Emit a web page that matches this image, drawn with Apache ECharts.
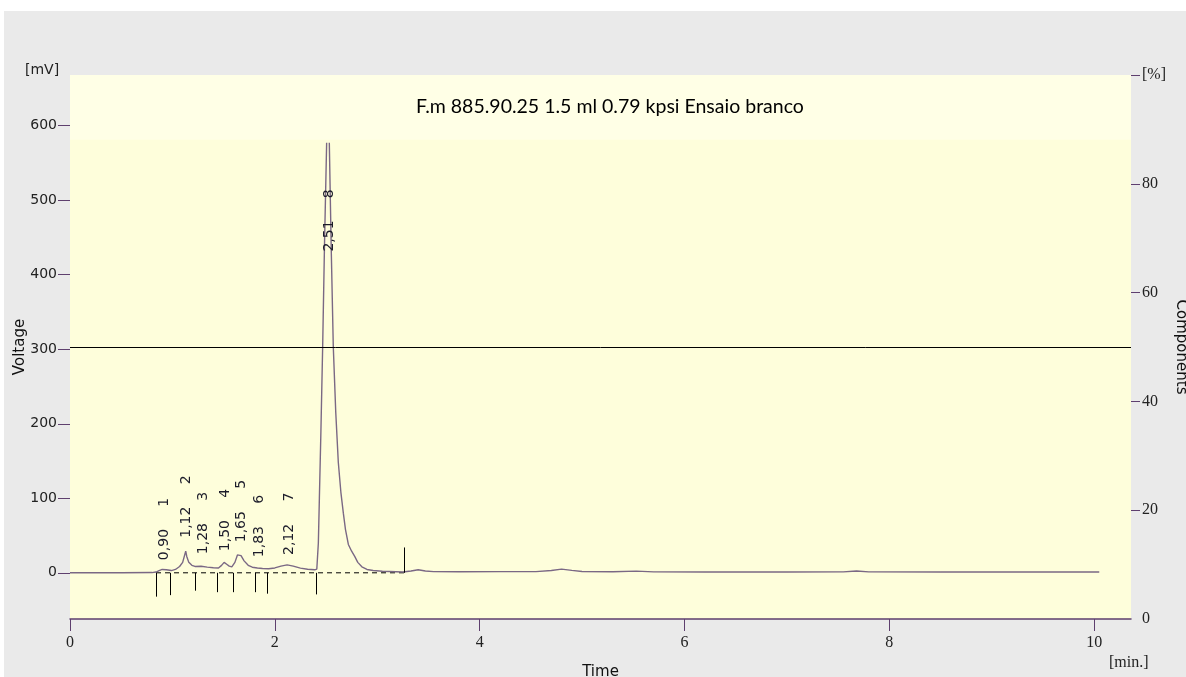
<!DOCTYPE html>
<html>
<head>
<meta charset="utf-8">
<script src="https://cdn.jsdelivr.net/npm/echarts@6/dist/echarts.min.js"></script>
<style>
    html, body {margin: 0; padding: 0; background: #fff;}
    #chart {position: absolute; left: 4px; top: 11px; width: 1182px; height: 666px;}
</style>
</head>
<body>
<div id="chart"></div>
<script>
// chromatogram trace: time [min] / voltage [mV]  (null = clipped apex)
const traceTime = [0, 0.5, 0.80, 0.84, 0.87, 0.90, 0.94, 0.99, 1.03, 1.07, 1.10, 1.12, 1.13, 1.14, 1.16, 1.19, 1.22,
    1.28, 1.34, 1.40, 1.45, 1.48, 1.505, 1.53, 1.555, 1.58, 1.61, 1.635, 1.65, 1.67, 1.70, 1.74, 1.78, 1.83, 1.88,
    1.94, 2.00, 2.06, 2.12, 2.18, 2.25, 2.32, 2.39, 2.41, 2.425, 2.435, 2.45, 2.467, 2.485, 2.506, 2.519, 2.532,
    2.55, 2.571, 2.595, 2.62, 2.645, 2.669, 2.69, 2.718, 2.75, 2.78, 2.81, 2.85, 2.90, 2.96, 3.05, 3.25, 3.33,
    3.40, 3.47, 3.55, 3.8, 4.2, 4.55, 4.70, 4.80, 4.90, 5.0, 5.3, 5.53, 5.7, 6.2, 7.0, 7.55, 7.68, 7.80, 8.5,
    9.2, 10.05];
const traceValue = [0, 0, 0.3, 1, 3, 4.5, 4, 3, 4.5, 8.5, 14, 24, 29, 22, 14, 10, 8.5,
    8.8, 7.6, 6.8, 6.5, 10, 14, 11.5, 9, 8, 14, 24, 26.5, 23, 16, 10, 7.5, 6.5, 5.8,
    5.4, 6.5, 9, 10.7, 9, 6.3, 4.8, 4, 5, 40, 100, 190, 303, 440, 577, null, 577,
    440, 303, 215, 148, 108, 80, 58, 38, 29, 22, 14, 8, 4.5, 3, 2, 1, 2.5,
    4, 2.5, 1.6, 1.5, 1.6, 1.6, 3, 5, 3.2, 1.8, 1.4, 2.3, 1.2, 1, 1, 1.3, 2.4, 1.3, 1,
    1, 1];

// integration marks
const markTime = [0.84, 0.98, 1.218, 1.438, 1.589, 1.81, 1.927, 2.40, 3.265];
const markLow = [-32, -30, -24, -26, -26, -26, -28, -29, 0];
const markHigh = [0, 0, 0, 0, 0, 0, 0, 0, 34];
const baselineTime = [0.84, 3.265];

// peak labels
const peakTime = [0.90, 1.12, 1.28, 1.50, 1.65, 1.83, 2.12, 2.51];
const peakNo = [1, 2, 3, 4, 5, 6, 7, 8];
const peakLabelBase = [17, 47, 25, 29, 41, 21, 24, 431];

const voltTicks = [0, 100, 200, 300, 400, 500, 600];
const pctTicks = [20, 40, 60, 80, 100];
const pctLabels = [0, 20, 40, 60, 80, 100];
const compLine = 50;

const title = 'F.m 885.90.25 1.5 ml 0.79 kpsi Ensaio branco';

let trace = traceTime.map((t, i) => [t, traceValue[i]]);
let marks = markTime.map((t, i) => [t, markLow[i], markHigh[i]]);
let labels = peakTime.map((t, i) => [t, peakLabelBase[i], t.toFixed(2).replace('.', ',') + '     ' + peakNo[i]]);

let axisPurple = '#5e3f6e';

let option = {
    backgroundColor: '#eaeaea',
    animation: false,
    title: {
        text: title, left: 407, top: 81,
        textStyle: {fontFamily: 'Lato', fontSize: 19.5, fontWeight: 'normal', color: '#000'}
    },
    grid: {
        left: 66, top: 64, right: 55, bottom: 58, outerBoundsMode: 'none',
        show: true, backgroundColor: '#fefedb', borderWidth: 0
    },
    xAxis: {
        type: 'value', min: 0, max: 10.36, interval: 2,
        name: 'Time', nameLocation: 'middle', nameGap: 46,
        nameTextStyle: {fontFamily: 'DejaVu Sans', fontSize: 15, color: '#111'},
        axisLine: {onZero: false, lineStyle: {color: axisPurple, width: 1.5}},
        axisTick: {length: 12, lineStyle: {color: axisPurple}},
        axisLabel: {margin: 16, fontFamily: 'Liberation Serif', fontSize: 16, color: '#222', showMaxLabel: false},
        splitLine: {show: false}
    },
    yAxis: [{
        type: 'value', min: -62, max: 668,
        name: 'Voltage', nameLocation: 'middle', nameGap: 42, nameMoveOverlap: false,
        nameTextStyle: {fontFamily: 'DejaVu Sans', fontSize: 15, color: '#111'},
        axisLine: {show: false},
        axisTick: {show: true, length: 12, customValues: voltTicks, lineStyle: {color: axisPurple}},
        axisLabel: {margin: 13, customValues: voltTicks, fontFamily: 'DejaVu Sans', fontSize: 14, color: '#222'},
        splitLine: {show: false}
    }, {
        type: 'value', min: 0, max: 100, position: 'right',
        name: 'Components', nameLocation: 'middle', nameGap: 42, nameRotate: -90, nameMoveOverlap: false,
        nameTextStyle: {fontFamily: 'DejaVu Sans', fontSize: 15, color: '#111'},
        axisLine: {show: false},
        axisTick: {show: true, length: 9, customValues: pctTicks, lineStyle: {color: axisPurple}},
        axisLabel: {
            margin: 11, customValues: pctLabels, fontFamily: 'Liberation Serif', fontSize: 16, color: '#222',
            formatter: v => v === 100 ? '[%]' : v
        },
        splitLine: {show: false}
    }],
    graphic: [
        {type: 'text', left: 21, top: 52, style: {text: '[mV]', font: '14px "DejaVu Sans"', fill: '#222'}},
        {type: 'text', left: 1105, top: 644, style: {text: '[min.]', font: '16px "Liberation Serif"', fill: '#222'}}
    ],
    series: [{
        type: 'line', data: trace, yAxisIndex: 0, symbol: 'none', z: 3,
        lineStyle: {color: '#7a6884', width: 1.4},
        markArea: {
            silent: true, itemStyle: {color: '#ffffe6'},
            data: [[{yAxis: 581}, {yAxis: 668}]]
        }
    }, {
        // dashed baseline under the integrated peaks
        type: 'line', yAxisIndex: 0, symbol: 'none', z: 2,
        data: baselineTime.map(t => [t, 0]),
        lineStyle: {color: '#000', width: 1, type: [5, 4]}
    }, {
        // components line, right axis
        type: 'line', yAxisIndex: 1, data: [], symbol: 'none',
        markLine: {
            silent: true, symbol: 'none', label: {show: false},
            lineStyle: {color: '#000', width: 1, type: 'solid'},
            data: [{yAxis: compLine}]
        }
    }, {
        type: 'custom', yAxisIndex: 0, z: 4, data: marks,
        renderItem: function (params, api) {
            let p1 = api.coord([api.value(0), api.value(1)]);
            let p2 = api.coord([api.value(0), api.value(2)]);
            return {
                type: 'line',
                shape: {x1: Math.round(p1[0]) + 0.5, y1: p1[1], x2: Math.round(p2[0]) + 0.5, y2: p2[1]},
                style: {stroke: '#000', lineWidth: 1}
            };
        }
    }, {
        // peak labels (retention time + number), rotated
        type: 'custom', yAxisIndex: 0, z: 5, data: labels,
        renderItem: function (params, api) {
            let p = api.coord([api.value(0), api.value(1)]);
            return {
                type: 'text', x: p[0] + 2, y: p[1], rotation: Math.PI / 2,
                style: {
                    text: labels[params.dataIndex][2], font: '14px "DejaVu Sans"', fill: '#1c1c2a',
                    align: 'left', verticalAlign: 'middle'
                }
            };
        }
    }]
};

let chart = echarts.init(document.getElementById('chart'));
chart.setOption(option);

window.onresize = function () {
    chart.resize();
};
</script>
</body>
</html>
